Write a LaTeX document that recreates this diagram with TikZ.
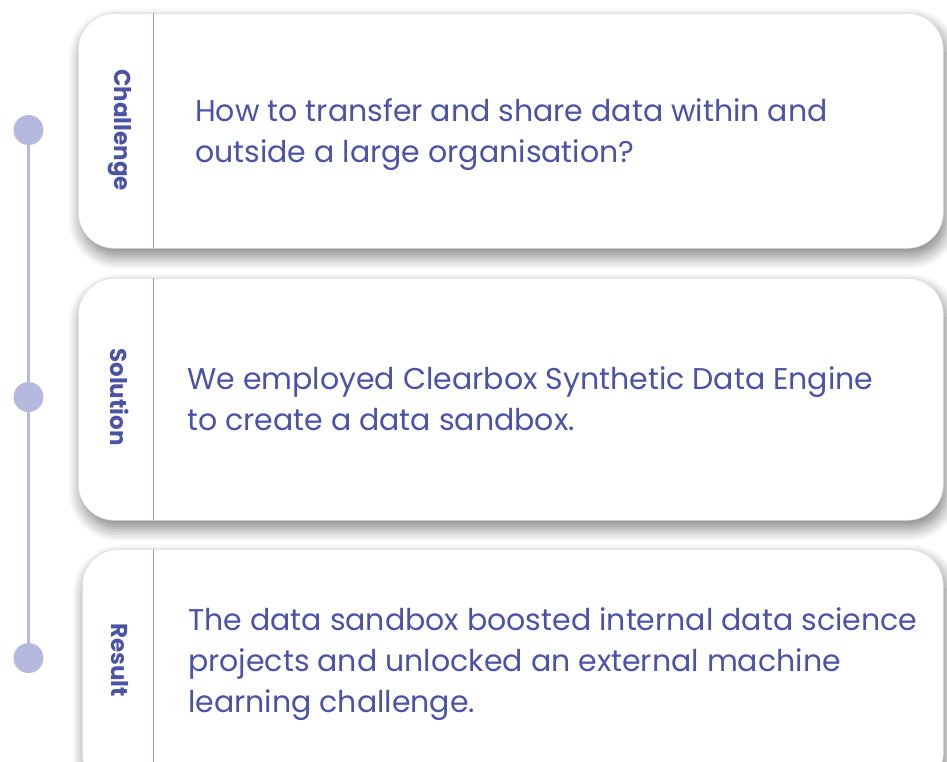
\documentclass[tikz,border=0pt]{standalone}
\usepackage{fontspec}
\setmainfont{Poppins}
\usetikzlibrary{shadows.blur}
\definecolor{ink}{RGB}{75,83,166}
\definecolor{track}{RGB}{181,185,222}
\definecolor{edge}{RGB}{218,218,224}
\definecolor{rule}{RGB}{150,155,205}
\begin{document}
\begin{tikzpicture}[x=1pt,y=-1pt,
  card/.style={draw=edge, line width=0.6pt, fill=white, rounded corners=36pt,
    minimum width=865pt, anchor=north west, inner sep=0pt,
    blur shadow={shadow xshift=3pt, shadow yshift=-8pt, shadow blur radius=13pt, shadow blur steps=12, shadow opacity=50}},
  tag/.style={text=ink, font=\fontsize{23}{27}\selectfont\bfseries, rotate=-90, inner sep=0pt},
  body/.style={text=ink, font=\fontsize{30}{36}\selectfont, anchor=base west, inner sep=0pt},
  dot/.style={circle, fill=track, minimum size=30pt, inner sep=0pt},
  divider/.style={draw=rule, line width=1pt}]
\useasboundingbox (0,0) rectangle (947,762);
\clip (0,0) rectangle (947,762);

% timeline: track first, dots on top
\coordinate (p1) at (28.5,130);
\coordinate (p3) at (28.5,658);
\draw[track, line width=3pt] (p1) -- (p3);
\node[dot] (d1) at (p1) {};
\node[dot] (d2) at (28.5,397) {};
\node[dot] (d3) at (p3) {};

% cards
\node[card, minimum height=235pt] (c1) at (78,13) {};
\node[card, minimum height=242pt] (c2) at (78,278) {};
\node[card, minimum height=240pt, minimum width=861pt] (c3) at (82,549) {};

\draw[divider] (153,13) -- (153,248);
\draw[divider] (153,278) -- (153,520);
\draw[divider] (153,549) -- (153,790);

% vertical tags
\node[tag] (l1) at (120,130) {Challenge};
\node[tag] (l2) at (120,397) {Solution};
\node[tag] (l3) at (120,660) {Result};

% card texts
\node[body] (t1a) at (195,122) {How to transfer and share data within and};
\node[body] (t1b) at (195,163) {outside a large organisation?};
\node[body] (t2a) at (187,389) {We employed Clearbox Synthetic Data Engine};
\node[body] (t2b) at (187,430) {to create a data sandbox.};
\node[body] (t3a) at (188,630) {The data sandbox boosted internal data science};
\node[body] (t3b) at (188,671) {projects and unlocked an external machine};
\node[body] (t3c) at (188,712) {learning challenge.};
\end{tikzpicture}
\end{document}
